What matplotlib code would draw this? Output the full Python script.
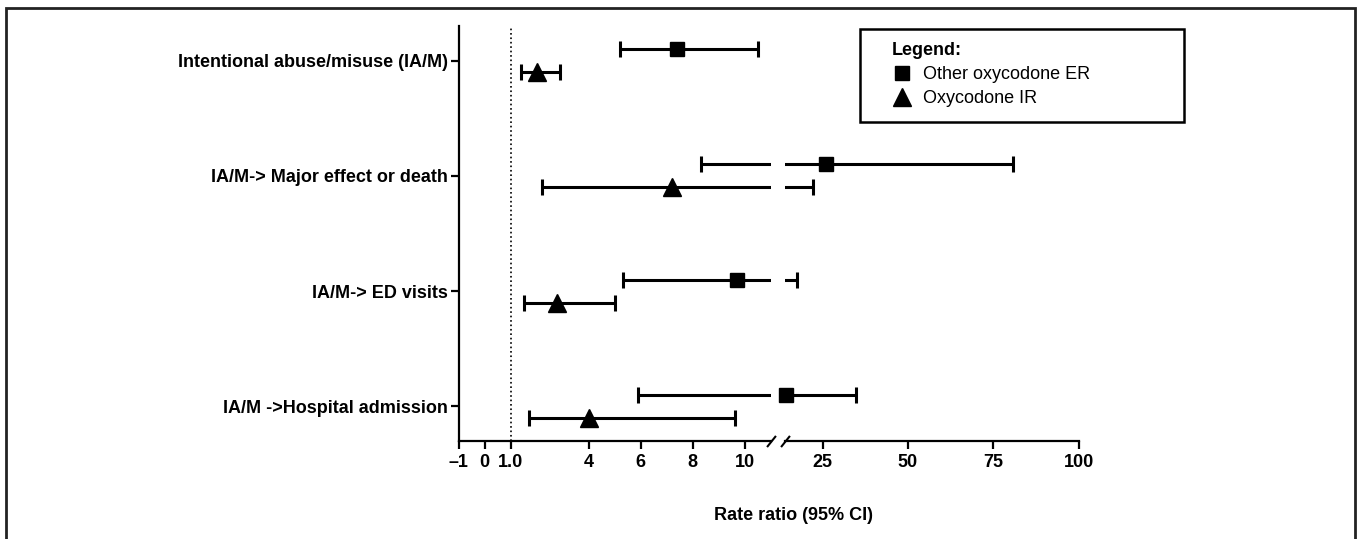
import matplotlib
matplotlib.use("Agg")
import matplotlib.pyplot as plt
from matplotlib.patches import Rectangle
import numpy as np

plt.rcParams['font.family'] = ['Liberation Sans', 'DejaVu Sans']

# outcomes, top to bottom
outcomes = [
    "Intentional abuse/misuse (IA/M)",
    "IA/M-> Major effect or death",
    "IA/M-> ED visits",
    "IA/M ->Hospital admission",
]

# Other oxycodone ER (squares)
er_est = np.array([7.4, 25.9, 9.7, 14.3])
er_lo = np.array([5.2, 8.3, 5.3, 5.9])
er_hi = np.array([10.5, 80.9, 17.4, 34.8])

# Oxycodone IR (triangles)
ir_est = np.array([2.0, 7.2, 2.8, 4.0])
ir_lo = np.array([1.4, 2.2, 1.5, 1.7])
ir_hi = np.array([2.9, 22.2, 5.0, 9.6])

left_ticks = [-1, 0, 1, 4, 6, 8, 10]
left_ticklabels = ["\u20131", "0", "1.0", "4", "6", "8", "10"]
right_ticks = [25, 50, 75, 100]
right_ticklabels = ["25", "50", "75", "100"]

W, H = 1360, 539
fig = plt.figure(figsize=(W / 100, H / 100), dpi=100)

def fx(px):
    return px / W

def fy(py):
    return 1 - py / H

ax_bottom = fy(441)
ax_height = (441 - 26) / H
axL = fig.add_axes([fx(458.5), ax_bottom, fx(312.5), ax_height])
axR = fig.add_axes([fx(785), ax_bottom, fx(293.6), ax_height], sharey=axL)
axL.set_xlim(-1, 11)
axR.set_xlim(14, 100)

ypos = np.arange(len(outcomes), 0, -1).astype(float)
off = 0.1
axL.set_ylim(0.7, 4.3)

lw = 2.2
for ax in (axL, axR):
    ax.errorbar(er_est, ypos + off, xerr=[er_est - er_lo, er_hi - er_est],
                fmt='none', ecolor='black', elinewidth=lw, capsize=5.6, capthick=lw)
    ax.errorbar(ir_est, ypos - off, xerr=[ir_est - ir_lo, ir_hi - ir_est],
                fmt='none', ecolor='black', elinewidth=lw, capsize=5.6, capthick=lw)

handles = []
for ax in (axL, axR):
    x0, x1 = ax.get_xlim()
    m = (er_est >= x0) & (er_est <= x1)
    h1, = ax.plot(er_est[m], ypos[m] + off, linestyle='none', marker='s',
                  markersize=10.5, color='black', clip_on=False, zorder=5,
                  label='Other oxycodone ER')
    m = (ir_est >= x0) & (ir_est <= x1)
    h2, = ax.plot(ir_est[m], ypos[m] - off, linestyle='none', marker='^',
                  markersize=13.5, color='black', clip_on=False, zorder=5,
                  label='Oxycodone IR')
    handles = [h1, h2]

axL.axvline(1, color='black', linestyle=':', linewidth=1.2, zorder=1)

# spines and ticks
for ax in (axL, axR):
    ax.spines['top'].set_visible(False)
    ax.spines['right'].set_visible(False)
    ax.spines['bottom'].set_linewidth(1.6)
    ax.tick_params(axis='x', length=5.5, width=1.6, pad=4, labelsize=13)
axR.spines['left'].set_visible(False)
axL.spines['left'].set_linewidth(1.6)
axR.tick_params(axis='y', left=False, labelleft=False)
axL.tick_params(axis='y', length=6, width=1.6, pad=1.5)

axL.set_xticks(left_ticks, left_ticklabels)
axR.set_xticks(right_ticks, right_ticklabels)
axL.set_yticks(ypos, outcomes)
for lab in axL.get_xticklabels() + axR.get_xticklabels():
    lab.set_fontweight('bold')
for lab in axL.get_yticklabels():
    lab.set_fontweight('bold')
    lab.set_fontsize(13)

# break marks on the x axis
brk = dict(marker=[(-0.8, -1), (0.8, 1)], markersize=8, linestyle='none',
           color='black', mec='black', mew=1.5, clip_on=False)
axL.plot([1], [0], transform=axL.transAxes, **brk)
axR.plot([0], [0], transform=axR.transAxes, **brk)

fig.text(fx(793), fy(515), "Rate ratio (95% CI)", ha='center', va='center',
         fontsize=13, fontweight='bold')

# legend with its own box
fig.patches.append(Rectangle((fx(860), fy(121.7)), fx(1184 - 860), (121.7 - 29.3) / H,
                             transform=fig.transFigure, fill=False,
                             edgecolor='black', linewidth=1.8))
fig.legend(handles=handles, labels=[h.get_label() for h in handles],
           title="Legend:", loc='upper left', bbox_to_anchor=(fx(892), fy(42)),
           frameon=False, borderpad=0, borderaxespad=0, fontsize=13,
           title_fontproperties={'weight': 'bold', 'size': 13}, alignment='left',
           handlelength=1.1, handletextpad=0.6, labelspacing=0.4)

# outer frame
fig.patches.append(Rectangle((fx(5.5), -0.05), fx(1355 - 5.5), fy(8.3) + 0.05,
                             transform=fig.transFigure, fill=False,
                             edgecolor='#222222', linewidth=2.0))

fig.savefig("out.png", dpi=100, facecolor='white')
